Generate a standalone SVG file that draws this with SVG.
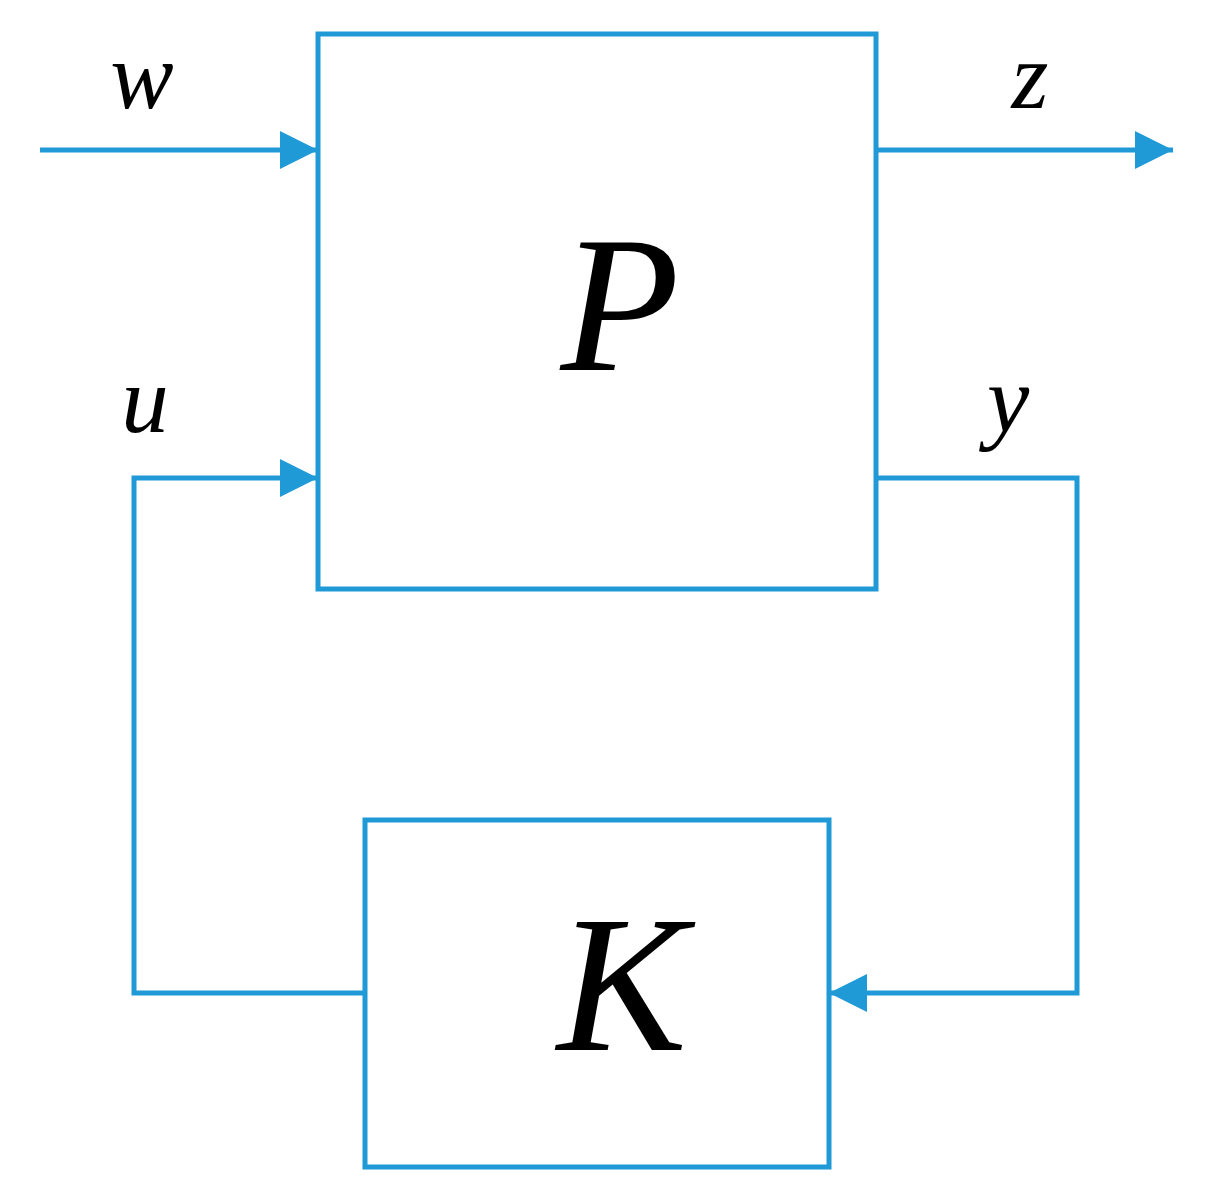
<svg xmlns="http://www.w3.org/2000/svg" width="1211" height="1204" viewBox="0 0 1211 1204">
<style>
.b{fill:none;stroke:#1f9ad6;stroke-width:5}
.l{fill:none;stroke:#1f9ad6;stroke-width:5}
.t{font-family:"Liberation Serif","Times New Roman",serif;font-style:italic;fill:#000;text-anchor:middle}
</style>
<defs>
<marker id="a" markerUnits="userSpaceOnUse" markerWidth="40" markerHeight="40" refX="38" refY="19" orient="auto" viewBox="0 0 40 38">
<path d="M0,0 L38,19 L0,38 Z" fill="#1f9ad6"/>
</marker>
</defs>
<rect width="1211" height="1204" fill="#fff"/>
<g id="P"><rect class="b" x="318" y="34" width="558" height="555"/><text class="t" x="620" y="370" font-size="195">P</text></g>
<g id="K"><rect class="b" x="365" y="820" width="464" height="347"/><text class="t" x="622" y="1050" font-size="195">K</text></g>
<g id="connectors">
<path class="l" d="M40,150 H318" marker-end="url(#a)"/>
<path class="l" d="M876,150 H1173" marker-end="url(#a)"/>
<path class="l" d="M365,993 H134 V478 H318" marker-end="url(#a)"/>
<path class="l" d="M876,478 H1077 V993 H829" marker-end="url(#a)"/>
</g>
<g id="labels">
<text class="t" x="142" y="108" font-size="95">w</text>
<text class="t" x="1030" y="108" font-size="95">z</text>
<text class="t" x="145" y="432" font-size="95">u</text>
<text class="t" x="1008" y="432" font-size="95">y</text>
</g>
</svg>
